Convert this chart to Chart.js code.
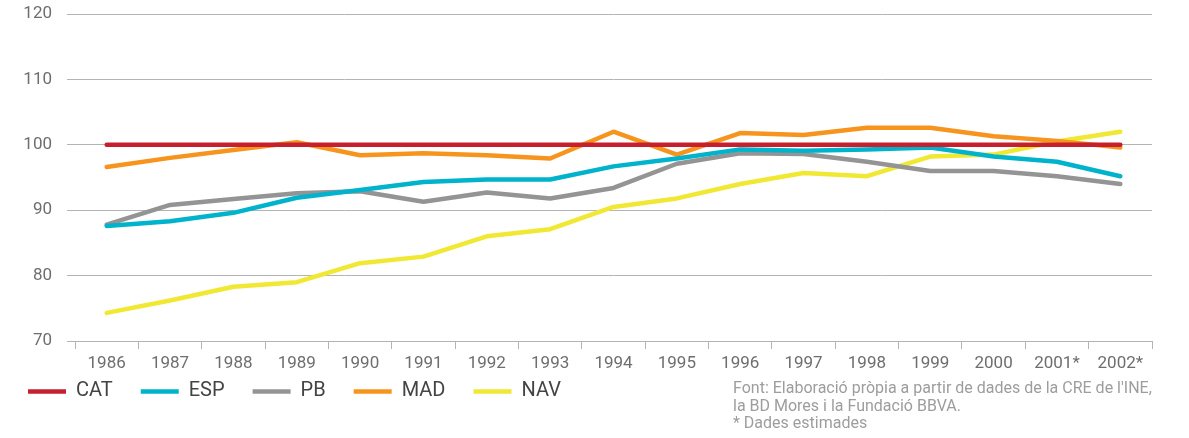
<!DOCTYPE html>
<html>
<head>
<meta charset="utf-8">
<script src="https://cdn.jsdelivr.net/npm/chart.js@4.4.1/dist/chart.umd.min.js"></script>
<style>
  html, body { margin: 0; padding: 0; background: #fff; }
  #wrap { position: relative; width: 1189px; height: 438px; }
  #note {
    position: absolute; left: 733px; top: 379px;
    font: 16px Roboto, sans-serif; line-height: 17.5px; color: #9d9d9d;
  }
</style>
</head>
<body>
<div id="wrap">
  <canvas id="chart" width="1189" height="438"></canvas>
  <div id="note">Font: Elaboració pròpia a partir de dades de la CRE de l'INE,<br>la BD Mores i la Fundació BBVA.<br>* Dades estimades</div>
</div>
<script>
// categories
const years = ['1986', '1987', '1988', '1989', '1990', '1991', '1992', '1993', '1994',
               '1995', '1996', '1997', '1998', '1999', '2000', '2001*', '2002*'];

// series (index, CAT = 100)
const cat = [100, 100, 100, 100, 100, 100, 100, 100, 100, 100, 100, 100, 100, 100, 100, 100, 100];
const esp = [87.6, 88.3, 89.6, 91.9, 93.1, 94.3, 94.7, 94.7, 96.7, 97.9, 99.3, 99.1, 99.3, 99.6, 98.2, 97.4, 95.2];
const pb  = [87.8, 90.8, 91.7, 92.6, 92.9, 91.3, 92.7, 91.8, 93.4, 97.1, 98.7, 98.6, 97.4, 96.0, 96.0, 95.2, 94.0];
const mad = [96.6, 98.0, 99.2, 100.4, 98.4, 98.7, 98.4, 97.9, 102.0, 98.5, 101.8, 101.5, 102.6, 102.6, 101.3, 100.6, 99.6];
const nav = [74.3, 76.2, 78.3, 79.0, 81.9, 82.9, 86.0, 87.1, 90.5, 91.8, 94.0, 95.7, 95.2, 98.2, 98.5, 100.5, 102.0];

// y ticks
const yMin = 70;
const yMax = 120;
const yStep = 10;

const gridColor = '#b4b4b4';
const labelColor = '#6e6e6e';

function line(label, data, color) {
  return {
    label: label,
    data: data,
    borderColor: color,
    backgroundColor: color,
    borderWidth: 4.5,
    borderCapStyle: 'round',
    borderJoinStyle: 'round',
    pointRadius: 0,
    tension: 0,
    fill: false
  };
}

// pull the legend row up so it sits just under the year labels
const legendLift = {
  id: 'legendLift',
  afterLayout(chart) {
    chart.legend.top -= 26;
    chart.legend.bottom -= 26;
  }
};

new Chart(document.getElementById('chart'), {
  type: 'line',
  data: {
    labels: years,
    datasets: [
      line('CAT', cat, '#c6202f'),
      line('ESP', esp, '#00b3cc'),
      line('PB', pb, '#949494'),
      line('MAD', mad, '#f7941d'),
      line('NAV', nav, '#f1e833')
    ]
  },
  plugins: [legendLift],
  options: {
    responsive: false,
    animation: false,
    layout: { padding: { top: 14, right: 37, bottom: 0.6, left: 0 } },
    plugins: {
      tooltip: { enabled: false },
      legend: {
        position: 'bottom',
        align: 'start',
        labels: {
          usePointStyle: true,
          pointStyle: 'line',
          pointStyleWidth: 38,
          padding: 28,
          color: '#444',
          font: { family: 'Roboto', size: 20 }
        }
      }
    },
    scales: {
      x: {
        offset: true,
        grid: {
          offset: true,
          drawOnChartArea: false,
          drawTicks: true,
          tickLength: 8,
          color: gridColor
        },
        border: { display: true, color: gridColor },
        ticks: {
          padding: 5,
          maxRotation: 0,
          autoSkip: false,
          color: labelColor,
          font: { family: 'Roboto', size: 17 }
        }
      },
      y: {
        min: yMin,
        max: yMax,
        afterFit: axis => {
          axis.width = 75;
          axis.paddingTop = 0;
          axis.paddingBottom = 0;
        },
        grid: { color: gridColor, tickLength: 8, lineWidth: 1 },
        border: { display: false },
        ticks: {
          stepSize: yStep,
          padding: 15,
          color: labelColor,
          font: { family: 'Roboto', size: 17 }
        }
      }
    }
  }
});
</script>
</body>
</html>
